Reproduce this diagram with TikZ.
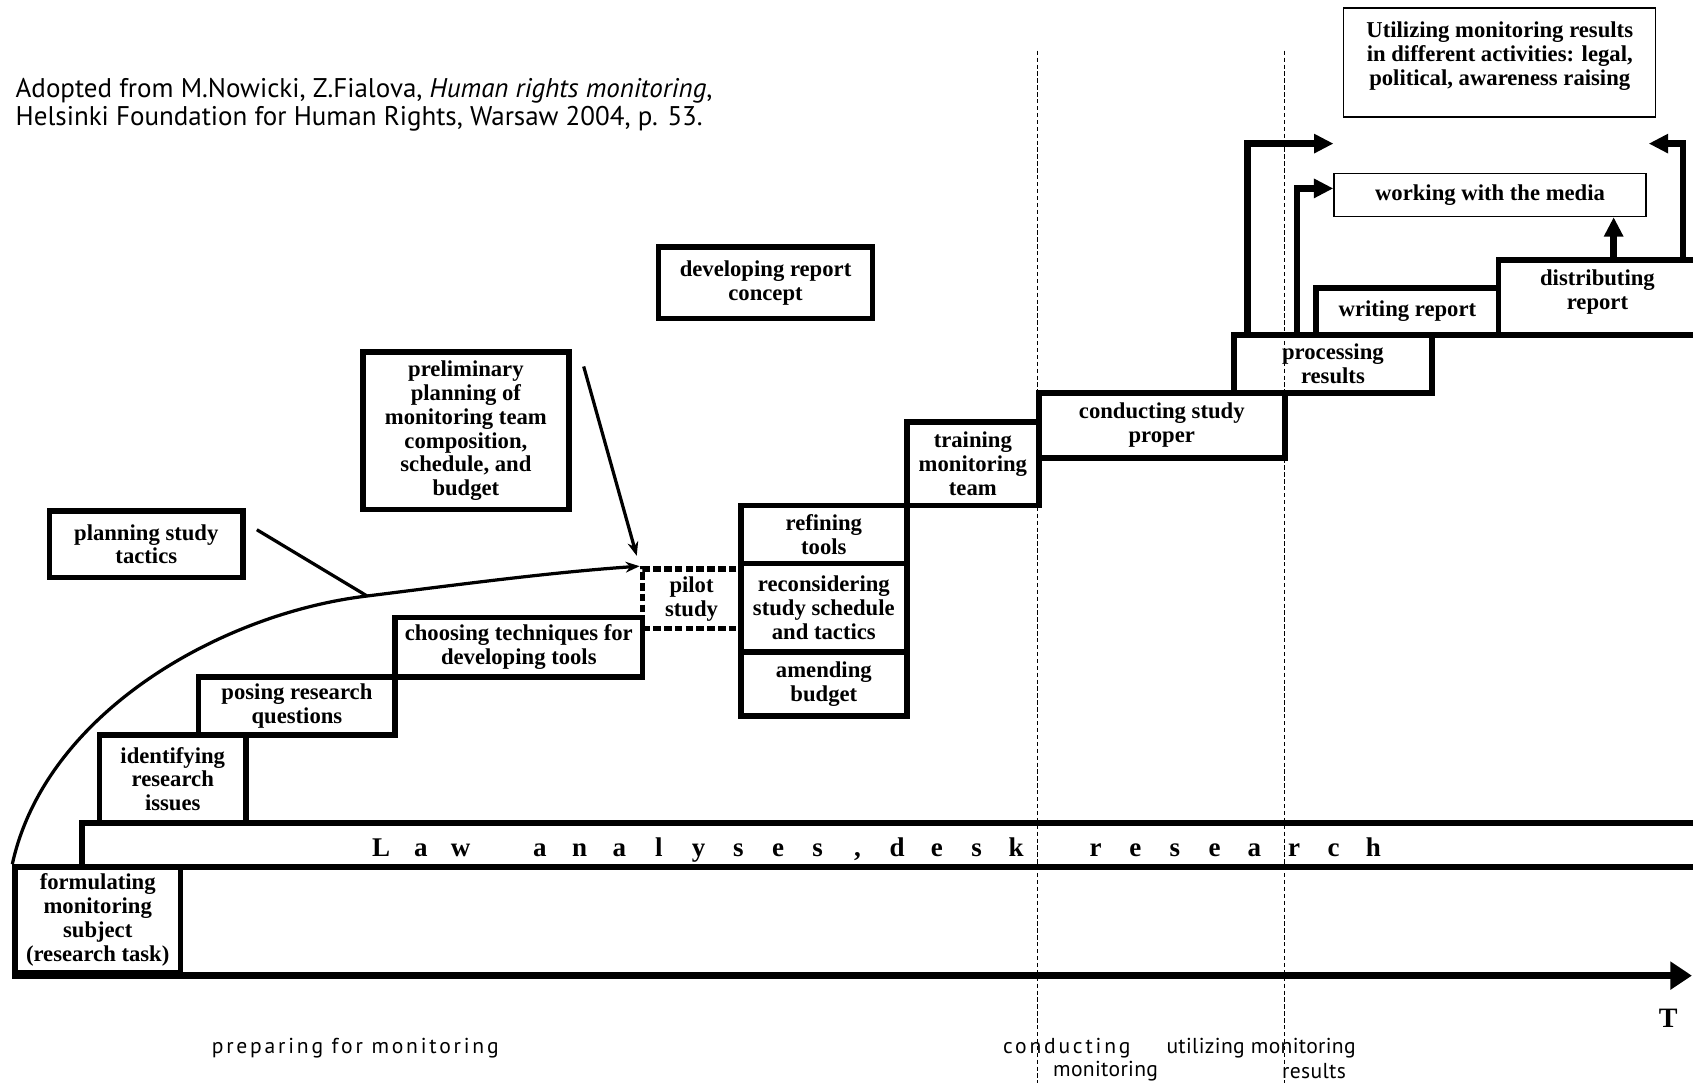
\documentclass[tikz,border=0pt]{standalone}
\usepackage{fontspec}
\setmainfont{Liberation Serif}
\setsansfont{PT Sans}
\newfontfamily\widephase{PT Sans}[LetterSpace=13]
\newfontfamily\narrowphase{PT Sans}[LetterSpace=1.5]
\usetikzlibrary{arrows.meta}
\newcommand{\boxfont}{\fontsize{21}{22}\selectfont\bfseries}
\begin{document}
\begin{tikzpicture}[x=1pt,y=-1pt,
  stage/.style={draw,line width=5.2pt,inner sep=0pt,align=center,font=\boxfont},
  thinbox/.style={draw,line width=1.3pt,inner sep=0pt,align=center,font=\boxfont},
  bigarrow/.style={line width=6pt,-{Triangle[length=18pt,width=17pt]}},
  thinarrow/.style={line width=3pt,-{Stealth[length=13pt,width=10pt]}},
  leader/.style={line width=3pt},
  phaseline/.style={line width=1.1pt,dash pattern=on 4pt off 2.4pt},
  steplabel/.style={font=\widephase\fontsize{20}{22}\selectfont},
  steplabelb/.style={font=\narrowphase\fontsize{20}{22}\selectfont},
  lawchar/.style={font=\fontsize{25}{25}\selectfont\bfseries,anchor=base,inner sep=0pt}]
\useasboundingbox (0,0) rectangle (1568,1003);
\clip (0,0) rectangle (1568,1003);
\node[anchor=west,align=left,font=\sffamily\fontsize{25}{26}\selectfont] (cite) at (11,97)
  {Adopted from M.Nowicki, Z.Fialova, \textit{Human rights monitoring},\\Helsinki Foundation for Human Rights, Warsaw 2004, p. 53.};
\foreach \x in {961,1190}{\draw[phaseline] (\x,47)--(\x,1003);}
\node[stage,dash pattern=on 7pt off 3pt,minimum width=91pt,minimum height=55pt] (pilot) at (640.5,554.5) {pilot\\study};
\node[stage,minimum width=1499pt,minimum height=41pt] (law) at (825.5,782.5) {};
\foreach \ch [count=\i from 0] in {L,a,w,{},a,n,a,l,y,s,e,s,{,},d,e,s,k,{},r,e,s,e,a,r,c,h}{
\node[lawchar] (law\i) at (353+36.76*\i,793) {\ch};
}
\node[stage,minimum width=153pt,minimum height=98pt] (form) at (90.5,852) {formulating\\monitoring\\subject\\(research task)};
\node[stage,minimum width=136pt,minimum height=81pt] (ident) at (160,721.5) {identifying\\research\\issues};
\node[stage,minimum width=182pt,minimum height=54pt] (pose) at (275,654) {posing research\\questions};
\node[stage,minimum width=229pt,minimum height=55pt] (choose) at (480.5,599.5) {choosing techniques for\\developing tools};
\node[stage,minimum width=154pt,minimum height=54pt] (refine) at (763,495) {refining\\tools};
\node[stage,minimum width=154pt,minimum height=82pt] (recons) at (763,563) {reconsidering\\study schedule\\and tactics};
\node[stage,minimum width=154pt,minimum height=59pt] (amend) at (763,633.5) {amending\\budget};
\node[stage,minimum width=122pt,minimum height=77pt] (train) at (901,429.5) {training\\monitoring\\team};
\node[stage,minimum width=228pt,minimum height=60pt] (conduct) at (1076,394) {conducting study\\proper};
\node[stage,minimum width=183pt,minimum height=54pt] (proc) at (1234.5,337) {processing\\results};
\node[stage,minimum width=169pt,minimum height=43pt] (write) at (1303.5,288.5) {writing report};
\node[stage,minimum width=183pt,minimum height=69pt] (distr) at (1479.5,275.5) {distributing\\report\\[-8pt]\mbox{}};
\node[stage,minimum width=198pt,minimum height=66pt] (devel) at (709,262) {developing report\\concept};
\node[stage,minimum width=191pt,minimum height=146pt] (prelim) at (431.5,399) {preliminary\\planning of\\monitoring team\\composition,\\schedule, and\\budget};
\node[stage,minimum width=179pt,minimum height=62pt] (plan) at (135.5,504) {planning study\\tactics};
\node[thinbox,minimum width=289pt,minimum height=40pt] (work) at (1380,180.5) {working with the media};
\node[thinbox,minimum width=289pt,minimum height=101pt] (util) at (1389,58) {Utilizing monitoring results\\in different activities: legal,\\political, awareness raising\\[-5pt]\mbox{}};
\coordinate (join) at (340,552);
\coordinate (uleft) at (1235,133);
\coordinate (uright) at (1527,133);
\coordinate (tend) at (1567,898);
\draw[thinarrow] (form.north west) .. controls (42,660) and (205,568) .. (join) .. controls (420,542) and (510,530) .. (pilot.north west);
\draw[leader,shorten <=12pt] (plan.12) -- (join);
\draw[thinarrow,shorten >=10pt] ([xshift=11pt,yshift=-16pt]prelim.north east) -- (pilot.north west);
\draw[bigarrow] ([xshift=15pt]proc.north west) |- (uleft);
\draw[bigarrow] ([xshift=61pt]proc.north west) |- ([yshift=6pt]work.west);
\draw[bigarrow] ([xshift=-15pt]distr.north east) |- (uright);
\draw[bigarrow] ([xshift=15pt]distr.north) coordinate (d4) -- (d4 |- work.south);
\draw[line width=7pt,-{Triangle[length=20pt,width=25pt]}] (form.south west) -- (form.south west -| tend);
\node[font=\fontsize{26}{26}\selectfont\bfseries] (T) at (1545,943) {T};
\node[steplabel] (prep) at (329,971) {preparing for monitoring};
\node[steplabel] (cond1) at (988,971) {conducting};
\node[steplabelb] (cond2) at (1024,992) {monitoring};
\node[steplabelb] (use1) at (1168,971) {utilizing monitoring};
\node[steplabelb] (use2) at (1217,992) {results};
\end{tikzpicture}
\end{document}
